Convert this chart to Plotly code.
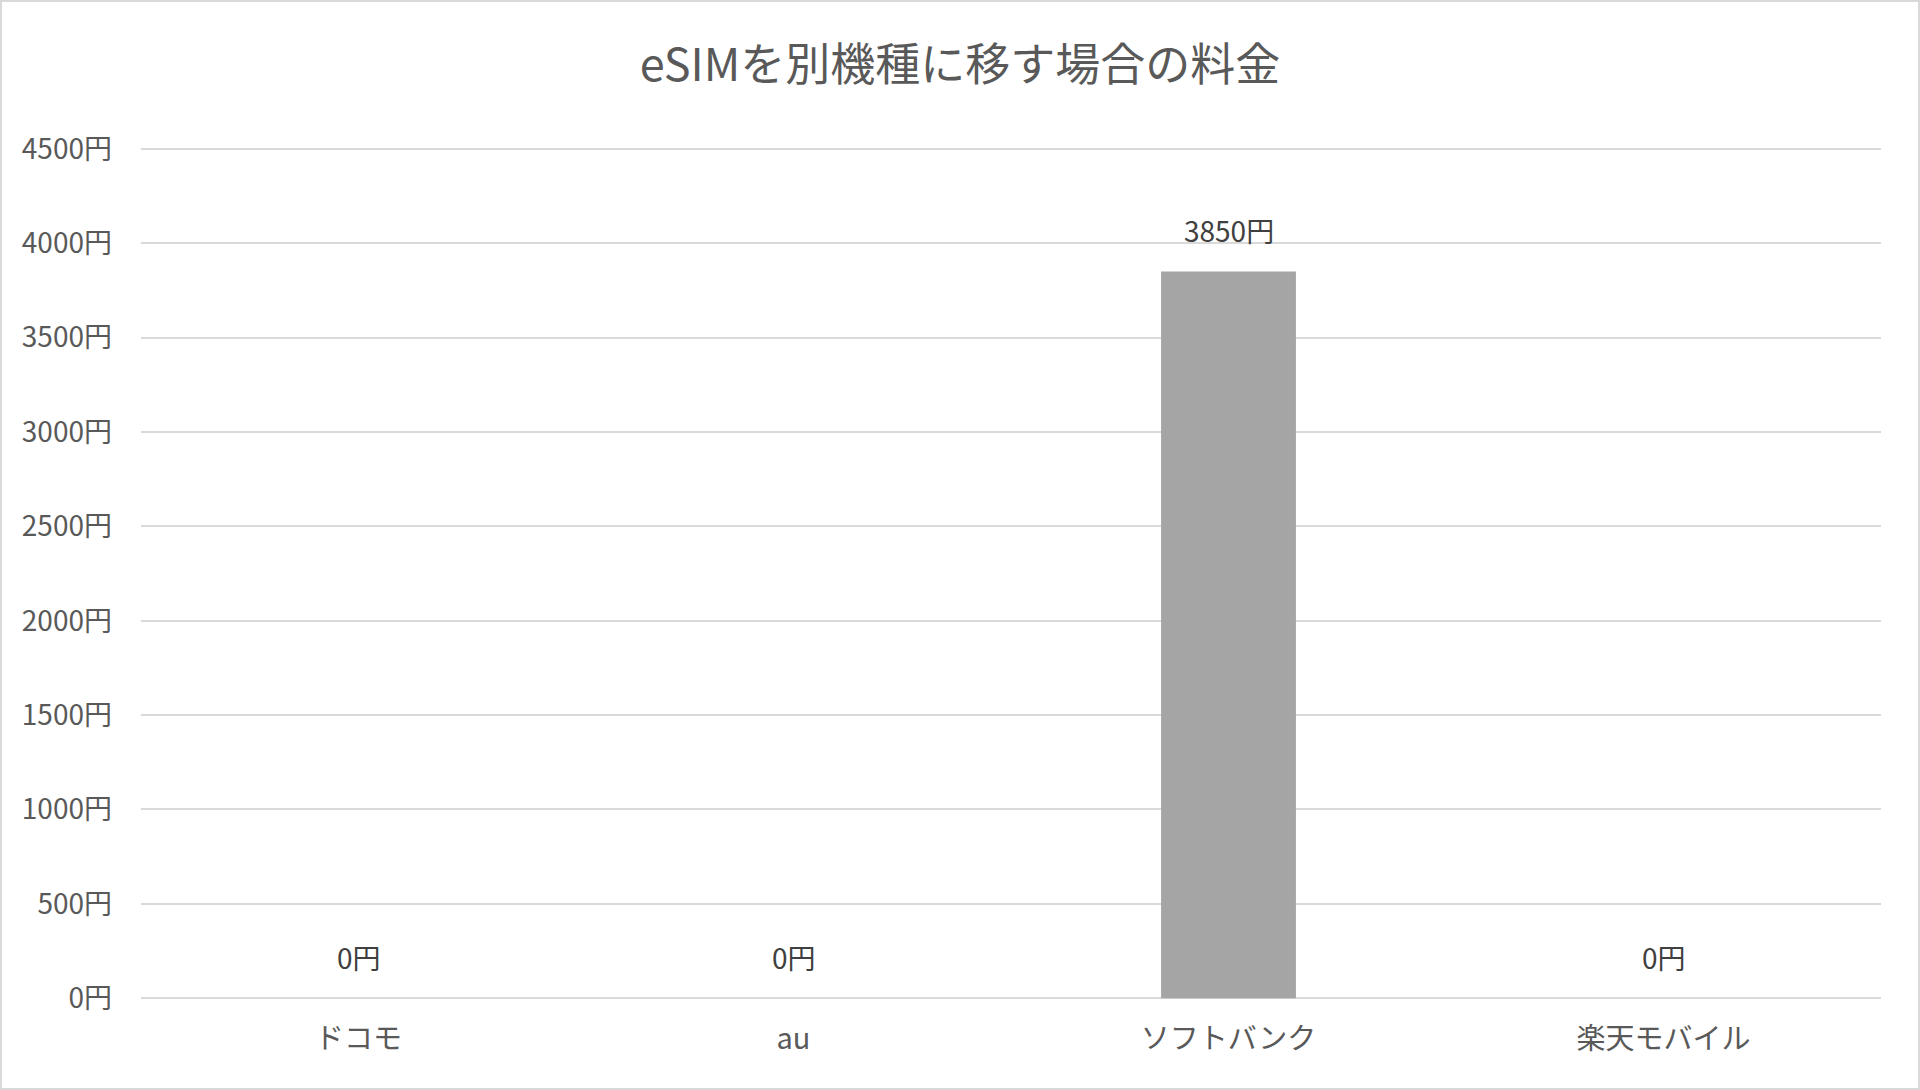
import plotly.graph_objects as go

categories = ["ドコモ", "au", "ソフトバンク", "楽天モバイル"]
fees = [0, 0, 3850, 0]
y_ticks = [0, 500, 1000, 1500, 2000, 2500, 3000, 3500, 4000, 4500]
y_tick_labels = [f"{t}円" for t in y_ticks]
title_text = "eSIMを別機種に移す場合の料金"

W, H = 1920, 1090
PAD = 25  # value units of padding so edge gridlines render
ml, mr, mt, mb = 141, 39, 144, 87
pw, ph = W - ml - mr, H - mt - mb

FONT = "Noto Sans CJK JP"

fig = go.Figure()
fig.add_trace(go.Bar(
    x=categories, y=fees,
    marker=dict(color="#a5a5a5", line=dict(width=0)),
    hoverinfo="x+y",
))

for c, v in zip(categories, fees):
    fig.add_annotation(
        x=c, y=v, text=f"{v}円", showarrow=False,
        yanchor="middle", yshift=41,
        font=dict(family=FONT, size=28, color="#404040"),
    )

# outer light border
fig.add_shape(
    type="rect", xref="paper", yref="paper",
    x0=-(ml - 1) / pw, x1=1 + (mr - 1) / pw,
    y0=-(mb - 1) / ph, y1=1 + (mt - 1) / ph,
    line=dict(color="#d9d9d9", width=2), fillcolor="rgba(0,0,0,0)",
    layer="below",
)

fig.update_layout(
    width=W, height=H,
    margin=dict(l=ml, r=mr, t=mt, b=mb),
    paper_bgcolor="white", plot_bgcolor="white",
    bargap=0.69,
    showlegend=False,
    title=dict(
        text=title_text, x=0.5, xanchor="center",
        y=1 - 65 / H, yref="container", yanchor="middle",
        font=dict(family=FONT, size=45, color="#595959"),
    ),
    font=dict(family=FONT, color="#595959"),
)

fig.update_xaxes(
    showgrid=False, showline=False, zeroline=False, ticks="",
    tickfont=dict(family=FONT, size=29, color="#595959"),
    ticklabelstandoff=16,
)
fig.update_yaxes(
    range=[-PAD, 4500 + PAD], tickvals=y_ticks, ticktext=y_tick_labels,
    showgrid=True, gridcolor="#d9d9d9", gridwidth=2,
    zeroline=False, showline=False, ticks="",
    tickfont=dict(family=FONT, size=28, color="#595959"),
    ticklabelstandoff=28,
)

fig.write_html(
    "out.html",
    config={"displayModeBar": False},
    post_script="document.body.style.margin='0';document.body.style.overflow='hidden';",
)
